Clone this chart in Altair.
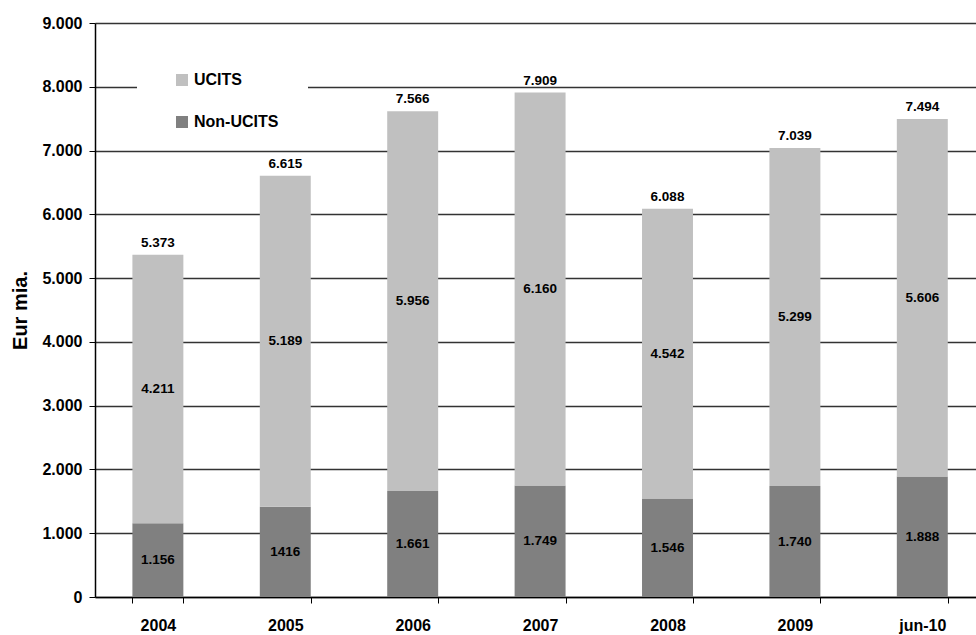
import altair as alt
import pandas as pd

categories = ["2004", "2005", "2006", "2007", "2008", "2009", "jun-10"]
non_ucits = [1156, 1416, 1661, 1749, 1546, 1740, 1888]
ucits = [4211, 5189, 5956, 6160, 4542, 5299, 5606]
totals = [5373, 6615, 7566, 7909, 6088, 7039, 7494]
non_labels = ["1.156", "1416", "1.661", "1.749", "1.546", "1.740", "1.888"]
ucits_labels = ["4.211", "5.189", "5.956", "6.160", "4.542", "5.299", "5.606"]
total_labels = ["5.373", "6.615", "7.566", "7.909", "6.088", "7.039", "7.494"]

rows = []
for i, c in enumerate(categories):
    rows.append({"cat": c, "series": "Non-UCITS", "value": non_ucits[i], "ord": 0,
                 "mid": non_ucits[i] / 2, "label": non_labels[i]})
    rows.append({"cat": c, "series": "UCITS", "value": ucits[i], "ord": 1,
                 "mid": non_ucits[i] + ucits[i] / 2, "label": ucits_labels[i]})
df = pd.DataFrame(rows)
tot = pd.DataFrame({"cat": categories, "top": [n + u for n, u in zip(non_ucits, ucits)],
                    "label": total_labels})

FONT = "Liberation Sans"

x_scale = alt.Scale(paddingInner=0.6, paddingOuter=0.2575, align=0.57)
x_enc = alt.X("cat:N", sort=categories, title=None, scale=x_scale,
              axis=alt.Axis(tickBand="extent", labelAngle=0, labelFont=FONT, labelFontSize=16,
                            labelFontWeight="bold", labelColor="black", labelPadding=14,
                            tickSize=6, tickColor="black", domainColor="black", domainWidth=1.5))
y_scale = alt.Scale(domain=[0, 9000], nice=False)

bars = alt.Chart(df).mark_bar().encode(
    x=x_enc,
    y=alt.Y("value:Q", stack="zero", scale=y_scale, title="Eur mia.",
            axis=alt.Axis(values=list(range(0, 9001, 1000)),
                          labelExpr="replace(format(datum.value, ','), ',', '.')",
                          labelFont=FONT, labelFontSize=16, labelFontWeight="bold",
                          labelColor="black", labelPadding=7, tickSize=6, tickColor="black",
                          domainColor="black", domainWidth=1.5,
                          grid=True, gridColor="#333333", gridWidth=1.3,
                          titleFont=FONT, titleFontSize=20, titleFontWeight="bold",
                          titleColor="black", titlePadding=11)),
    color=alt.Color("series:N",
                    scale=alt.Scale(domain=["UCITS", "Non-UCITS"], range=["#C0C0C0", "#808080"]),
                    legend=alt.Legend(title="\u00a0", titleOrient="right", titlePadding=12,
                                      titleFontSize=10,
                                      orient="none", legendX=42, legendY=31,
                                      fillColor="white", padding=18, symbolOffset=19,
                                      symbolType="square", symbolSize=144, symbolStrokeWidth=0,
                                      labelFont=FONT, labelFontSize=16, labelFontWeight="bold",
                                      labelColor="black", labelOffset=4, rowPadding=26)),
    order=alt.Order("ord:Q", sort="ascending"),
)

seg_text = alt.Chart(df).mark_text(font=FONT, fontSize=13.5, fontWeight="bold", color="black").encode(
    x=alt.X("cat:N", sort=categories, scale=x_scale),
    y=alt.Y("mid:Q", scale=y_scale),
    text="label:N",
)

top_text = alt.Chart(tot).mark_text(font=FONT, fontSize=13.5, fontWeight="bold", color="black",
                                    baseline="bottom", dy=-5).encode(
    x=alt.X("cat:N", sort=categories, scale=x_scale),
    y=alt.Y("top:Q", scale=y_scale),
    text="label:N",
)

chart = alt.layer(bars, seg_text, top_text).properties(
    width=881, height=574,
    autosize=alt.AutoSizeParams(type="none"),
    padding={"left": 95, "top": 23, "right": 0, "bottom": 38},
    background="white",
).configure_view(stroke=None)

chart.save("out.html", embed_options={"renderer": "svg", "actions": False})
